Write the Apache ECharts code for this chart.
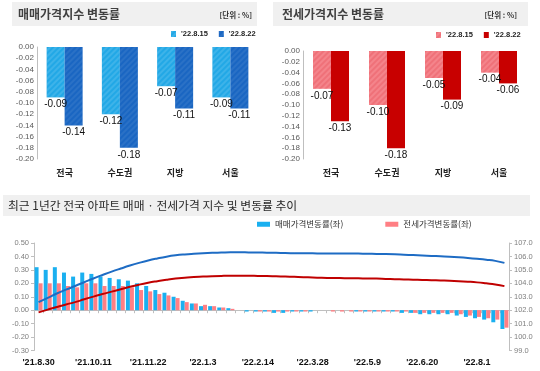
<!DOCTYPE html>
<html><head><meta charset="utf-8">
<script src="https://cdn.jsdelivr.net/npm/echarts@6/dist/echarts.min.js"></script>
<style>html,body{margin:0;padding:0;background:#fff}#c{width:540px;height:371px}</style>
</head><body><div id="c"></div>
<script>
// ---- top panels ----
const topCategories = ['전국', '수도권', '지방', '서울'];
const topWeeks = ["'22.8.15", "'22.8.22"];
const saleChange815 = [-0.09, -0.12, -0.07, -0.09];
const saleChange822 = [-0.14, -0.18, -0.11, -0.11];
const jeonseChange815 = [-0.07, -0.10, -0.05, -0.04];
const jeonseChange822 = [-0.13, -0.18, -0.09, -0.06];

// ---- bottom panel (weekly) ----
const weeks = ["'21.8.30","'21.9.6","'21.9.13","'21.9.20","'21.9.27","'21.10.4","'21.10.11","'21.10.18","'21.10.25","'21.11.1","'21.11.8","'21.11.15","'21.11.22","'21.11.29","'21.12.6","'21.12.13","'21.12.20","'21.12.27",
"'22.1.3","'22.1.10","'22.1.17","'22.1.24","'22.1.31","'22.2.7","'22.2.14","'22.2.21","'22.2.28","'22.3.7","'22.3.14","'22.3.21","'22.3.28","'22.4.4","'22.4.11","'22.4.18","'22.4.25","'22.5.2","'22.5.9","'22.5.16","'22.5.23","'22.5.30","'22.6.6","'22.6.13","'22.6.20","'22.6.27","'22.7.4","'22.7.11","'22.7.18","'22.7.25","'22.8.1","'22.8.8","'22.8.15","'22.8.22"];
const saleRate = [0.32,0.30,0.32,0.28,0.25,0.28,0.27,0.25,0.24,0.23,0.22,0.20,0.18,0.15,0.13,0.10,0.07,0.05,
0.03,0.03,0.02,0.015,0.00,-0.01,-0.01,-0.01,-0.02,-0.02,-0.01,-0.01,-0.01,0.00,0.00,0.00,0.00,-0.01,-0.01,-0.01,-0.01,-0.01,-0.02,-0.02,-0.03,-0.03,-0.03,-0.03,-0.04,-0.05,-0.06,-0.07,-0.09,-0.14];
const jeonseRate = [0.20,0.20,0.20,0.18,0.17,0.20,0.20,0.18,0.18,0.18,0.17,0.15,0.14,0.12,0.11,0.09,0.06,0.05,
0.04,0.03,0.02,0.01,0.00,0.00,-0.01,-0.01,-0.01,-0.01,-0.01,-0.01,0.00,0.00,-0.01,-0.01,-0.01,-0.01,-0.01,-0.01,-0.01,-0.01,-0.01,-0.02,-0.02,-0.02,-0.02,-0.02,-0.03,-0.04,-0.05,-0.06,-0.07,-0.13];
const saleIndex = [102.6,102.92,103.24,103.53,103.8,104.08,104.36,104.62,104.87,105.1,105.32,105.52,105.7,105.85,105.98,106.08,106.15,106.2,
106.24,106.27,106.29,106.31,106.31,106.3,106.29,106.28,106.27,106.25,106.24,106.23,106.23,106.22,106.22,106.22,106.22,106.21,106.2,106.19,106.18,106.16,106.13,106.1,106.07,106.04,106.01,105.98,105.94,105.89,105.83,105.76,105.67,105.52];
const jeonseIndex = [101.84,102.04,102.24,102.43,102.6,102.81,103.01,103.2,103.38,103.56,103.74,103.9,104.04,104.16,104.27,104.36,104.42,104.47,
104.5,104.53,104.55,104.56,104.56,104.56,104.55,104.54,104.52,104.5,104.48,104.46,104.43,104.41,104.4,104.39,104.38,104.37,104.36,104.35,104.33,104.31,104.29,104.27,104.25,104.23,104.21,104.19,104.16,104.12,104.07,104.0,103.92,103.79];

const KR = "'Noto Sans CJK KR', 'Noto Sans', sans-serif";
const NUM = "'Liberation Sans', Arial, sans-serif";
const stripe = c => ({symbol: 'rect', symbolSize: 1, dashArrayX: [1, 0], dashArrayY: [2, 2], rotation: -Math.PI / 4, color: c});

const chart = echarts.init(document.getElementById('c'));

function topY(gridIndex) {
  return {
    type: 'value', gridIndex: gridIndex, min: -0.2, max: 0, interval: 0.02,
    axisLine: {show: true, lineStyle: {color: '#bfbfbf'}},
    axisTick: {show: false}, splitLine: {show: false},
    axisLabel: {fontSize: 8, color: '#595959', fontFamily: NUM, margin: 3, formatter: v => v.toFixed(2)}
  };
}
function topX(gridIndex) {
  return {
    type: 'category', gridIndex: gridIndex, data: topCategories, position: 'bottom',
    axisLine: {show: false, onZero: false}, axisTick: {show: false},
    axisLabel: {fontSize: 9, fontWeight: 'bold', color: '#222', fontFamily: KR, margin: 9}
  };
}
function topBar(name, data, xi, yi, color, decal) {
  return {
    type: 'bar', name: name, data: data, xAxisIndex: xi, yAxisIndex: yi,
    barWidth: 18, barGap: '0%',
    itemStyle: {color: color, decal: decal},
    label: {show: true, position: 'bottom', distance: 2, fontSize: 10, color: '#111', fontFamily: NUM, formatter: p => p.value.toFixed(2)}
  };
}

const option = {
  animation: false,
  backgroundColor: '#fff',
  grid: [
    {left: 37, right: 282, top: 47, bottom: 212},
    {left: 303, right: 13, top: 51, bottom: 212},
    {left: 34, right: 31, top: 243, bottom: 20.5}
  ],
  legend: [
    {data: topWeeks, left: 171, top: 30, icon: 'rect', itemWidth: 5, itemHeight: 6, itemGap: 11, padding: 0,
     textStyle: {fontSize: 7.5, fontWeight: 'bold', color: '#222', fontFamily: NUM}},
    {data: topWeeks.map(w => w + ' '), left: 436, top: 31, icon: 'rect', itemWidth: 5, itemHeight: 6, itemGap: 11, padding: 0,
     formatter: n => n.trim(),
     textStyle: {fontSize: 7.5, fontWeight: 'bold', color: '#222', fontFamily: NUM}},
    {data: ['매매가격변동률(좌)', '전세가격변동률(좌)'], left: 257, top: 220, icon: 'rect', itemWidth: 13, itemHeight: 5, itemGap: 42, padding: 0,
     textStyle: {fontSize: 8.5, color: '#333', fontFamily: KR}}
  ],
  xAxis: [
    topX(0), topX(1),
    {type: 'category', gridIndex: 2, data: weeks, position: 'bottom',
     axisLine: {show: true, onZero: true, lineStyle: {color: '#bfbfbf'}},
     axisTick: {show: true, interval: 0, length: 3, lineStyle: {color: '#bfbfbf'}},
     axisLabel: {show: false}},
    {type: 'category', gridIndex: 2, data: weeks, position: 'bottom',
     axisLine: {show: false, onZero: false}, axisTick: {show: false},
     axisLabel: {interval: 5, fontSize: 9, fontWeight: 'bold', color: '#111', fontFamily: NUM, margin: 8}}
  ],
  yAxis: [
    topY(0), topY(1),
    {type: 'value', gridIndex: 2, min: -0.3, max: 0.5, interval: 0.1, position: 'left',
     axisLine: {show: true, lineStyle: {color: '#bfbfbf'}},
     axisTick: {show: true, length: 3, lineStyle: {color: '#bfbfbf'}}, splitLine: {show: false},
     axisLabel: {fontSize: 7.5, color: '#7f7f7f', fontFamily: NUM, margin: 5, formatter: v => v.toFixed(2)}},
    {type: 'value', gridIndex: 2, min: 99, max: 107, interval: 1, position: 'right',
     axisLine: {show: true, lineStyle: {color: '#bfbfbf'}},
     axisTick: {show: true, length: 3, lineStyle: {color: '#bfbfbf'}}, splitLine: {show: false},
     axisLabel: {fontSize: 7.5, color: '#7f7f7f', fontFamily: NUM, margin: 5, formatter: v => v.toFixed(1)}}
  ],
  series: [
    topBar(topWeeks[0], saleChange815, 0, 0, '#22A8E6', stripe('rgba(255,255,255,0.12)')),
    topBar(topWeeks[1], saleChange822, 0, 0, '#1A66C2', stripe('rgba(255,255,255,0.07)')),
    topBar(topWeeks[0] + ' ', jeonseChange815, 1, 1, '#F4848B', stripe('rgba(230,70,80,0.3)')),
    topBar(topWeeks[1] + ' ', jeonseChange822, 1, 1, '#C80000', null),
    {type: 'bar', name: '매매가격변동률(좌)', data: saleRate, xAxisIndex: 2, yAxisIndex: 2, barWidth: 4, barGap: '0%',
     itemStyle: {color: '#1AB0F0'}},
    {type: 'bar', name: '전세가격변동률(좌)', data: jeonseRate, xAxisIndex: 2, yAxisIndex: 2, barWidth: 4, barGap: '0%',
     itemStyle: {color: '#FF7F84'}},
    {type: 'line', name: '매매가격지수(우)', data: saleIndex, xAxisIndex: 2, yAxisIndex: 3, smooth: true, showSymbol: false,
     lineStyle: {width: 2, color: '#1E6CC4'}, itemStyle: {color: '#1E6CC4'}, z: 5},
    {type: 'line', name: '전세가격지수(우)', data: jeonseIndex, xAxisIndex: 2, yAxisIndex: 3, smooth: true, showSymbol: false,
     lineStyle: {width: 2, color: '#C00000'}, itemStyle: {color: '#C00000'}, z: 5}
  ],
  graphic: [
    {type: 'rect', shape: {x: 12, y: 2, width: 245, height: 24}, style: {fill: '#F0F0F0'}, z: -1},
    {type: 'text', style: {text: '매매가격지수 변동률', x: 18, y: 14, verticalAlign: 'middle', fontSize: 12, fontWeight: 'bold', fontFamily: KR, fill: '#404040'}},
    {type: 'text', style: {text: '[단위 : %]', x: 252, y: 15, align: 'right', verticalAlign: 'middle', fontSize: 7.5, fontWeight: 'bold', fontFamily: KR, fill: '#333'}},
    {type: 'rect', shape: {x: 273, y: 2, width: 255, height: 24}, style: {fill: '#F0F0F0'}, z: -1},
    {type: 'text', style: {text: '전세가격지수 변동률', x: 282, y: 14, verticalAlign: 'middle', fontSize: 12, fontWeight: 'bold', fontFamily: KR, fill: '#404040'}},
    {type: 'text', style: {text: '[단위 : %]', x: 517, y: 15, align: 'right', verticalAlign: 'middle', fontSize: 7.5, fontWeight: 'bold', fontFamily: KR, fill: '#333'}},
    {type: 'rect', shape: {x: 3, y: 195, width: 527, height: 21}, style: {fill: '#F0F0F0'}, z: -1},
    {type: 'text', style: {text: '최근 1년간 전국 아파트 매매 · 전세가격 지수 및 변동률 추이', x: 8, y: 206, verticalAlign: 'middle', fontSize: 11.8, fontFamily: KR, fill: '#2a2a2a'}}
  ]
};
chart.setOption(option);
</script>
</body></html>
